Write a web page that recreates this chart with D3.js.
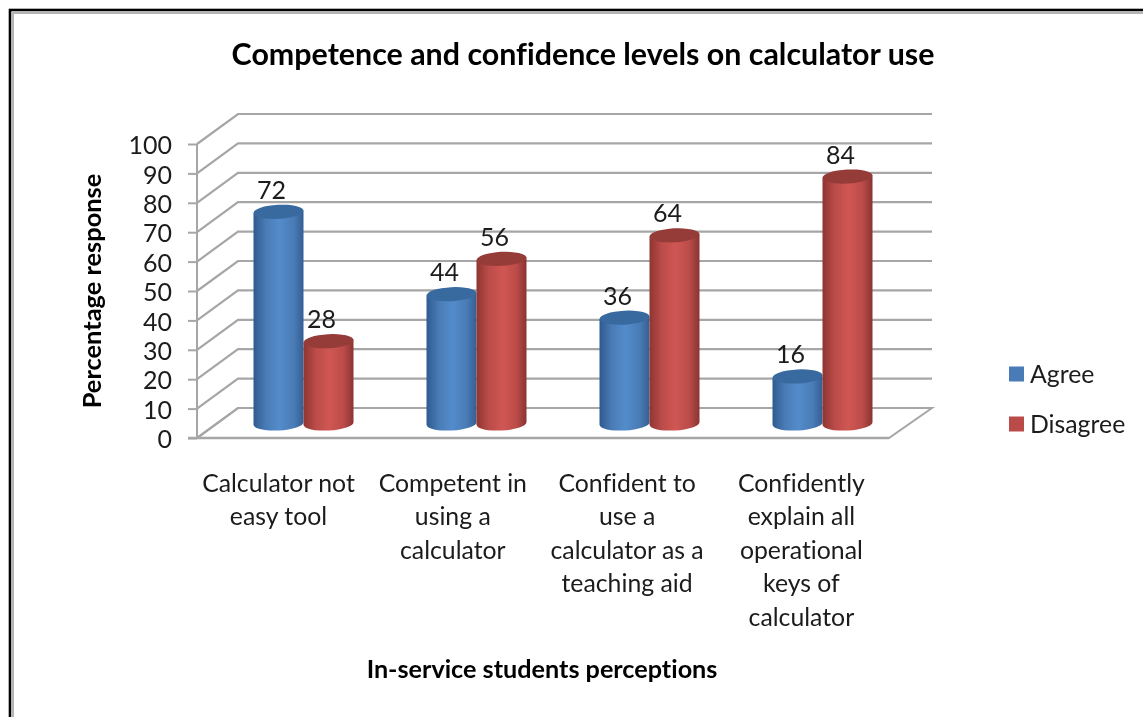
<!DOCTYPE html>
<html><head><meta charset="utf-8">
<script src="https://cdn.jsdelivr.net/npm/d3@7/dist/d3.min.js"></script>
<style>html,body{margin:0;background:#fff}svg{display:block}text{font-family:Lato,"Open Sans",sans-serif;font-variant-ligatures:none}</style>
</head><body><svg id="c" width="1143" height="717"></svg>
<script>
const chartTitle = "Competence and confidence levels on calculator use";
const xTitle = "In-service students perceptions";
const yTitle = "Percentage response";
const categories = ["Calculator not easy tool","Competent in using a calculator","Confident to use a calculator as a teaching aid","Confidently explain all operational keys of calculator"];
const categoryLines = [["Calculator not","easy tool"],["Competent in","using a","calculator"],["Confident to","use a","calculator as a","teaching aid"],["Confidently","explain all","operational","keys of","calculator"]];
const seriesNames = ["Agree","Disagree"];
const agree = [72,44,36,16];
const disagree = [28,56,64,84];
const yTicks = [0,10,20,30,40,50,60,70,80,90,100];

const root = d3.select("#c");
const defs = root.append("defs");
defs.append("filter").attr("id","soft").attr("filterUnits","userSpaceOnUse").attr("x",0).attr("y",0).attr("width",1143).attr("height",717)
  .append("feGaussianBlur").attr("stdDeviation",0.45);
const svg = root.append("g").attr("filter","url(#soft)");
const colors = {Agree:["#2f5a8e","#4a7cb6","#538ccb","#335f94","#39699f"],Disagree:["#8f3532","#bb4c49","#d05653","#8a3431","#953b39"]};
seriesNames.forEach(n=>{
  const c=colors[n];
  const g=defs.append("linearGradient").attr("id","g"+n).attr("x1",0).attr("x2",1).attr("y1",0).attr("y2",0);
  [[0,c[0]],[.25,c[1]],[.52,c[2]],[.8,c[1]],[1,c[3]]].forEach(s=>g.append("stop").attr("offset",s[0]).attr("stop-color",s[1]));
});

// frame
svg.append("rect").attr("x",0).attr("y",0).attr("width",1143).attr("height",717).attr("fill","#fff");
svg.append("rect").attr("x",13).attr("y",13).attr("width",1140).attr("height",720).attr("fill","none").attr("stroke","#b5b5b5").attr("stroke-width",2);
svg.append("rect").attr("x",10).attr("y",10).attr("width",1140).attr("height",720).attr("fill","none").attr("stroke","#000").attr("stroke-width",2.6);

const y = d3.scaleLinear().domain([0,100]).range([438,144]);
const x = d3.scaleBand().domain(categories).range([197,889]);
const dx=41, dy=-30;              // wall depth
const barDx=20.5, barDy=-14.5;    // bars sit mid-depth
const grid="#a6a6a6";

// floor + walls
svg.append("path").attr("d",`M${x.range()[0]},${y(0)}L${x.range()[0]+dx},${y(0)+dy}L932,${y(0)+dy}L${x.range()[1]},${y(0)}Z`).attr("fill","#fff").attr("stroke",grid).attr("stroke-width",2);
const gl=svg.append("g").attr("fill","none").attr("stroke",grid).attr("stroke-width",2.2);
yTicks.forEach(t=>{
  gl.append("path").attr("d",`M197,${y(t)}L${197+dx},${y(t)+dy}L932,${y(t)+dy}`);
});
// axis
const ax=svg.append("g").attr("transform","translate(197,0)").call(d3.axisLeft(y).tickValues(yTicks).tickSize(9).tickPadding(16));
ax.selectAll("path,line").attr("stroke",grid).attr("stroke-width",2);
ax.select(".domain").attr("d",`M0,${y(100)}V${y(0)}`);
ax.selectAll("text").attr("font-size",25).attr("fill","#1a1a1a").attr("dy","0.39em");
svg.append("line").attr("x1",188).attr("x2",889).attr("y1",y(0)).attr("y2",y(0)).attr("stroke",grid).attr("stroke-width",2.4);

// bars
const bw=50, ry=7;
const tilt=-3;
const bars=svg.append("g");
function cyl(g,cx,val,name){
  const top=y(val)+barDy, bot=y(0)+barDy, rx=bw/2, c=colors[name];
  const rise=rx*Math.tan(-tilt*Math.PI/180);
  g.append("path").attr("d",`M${cx-rx},${top+rise}V${bot+rise}A${rx},${ry} ${tilt} 0 0 ${cx+rx},${bot-rise}V${top-rise}Z`).attr("fill",`url(#g${name})`);
  g.append("ellipse").attr("cx",cx).attr("cy",top).attr("rx",rx).attr("ry",ry).attr("fill",c[4]).attr("transform",`rotate(${tilt} ${cx} ${top})`);
  g.append("text").attr("x",cx-7).attr("y",top-13).attr("text-anchor","middle").attr("font-size",25).attr("fill","#1a1a1a").text(val);
}
categories.forEach((cat,i)=>{
  const center=x(cat)+x.bandwidth()/2+barDx-0.5;
  const g=bars.append("g");
  cyl(g,center-bw/2,agree[i],"Agree");
  cyl(g,center+bw/2,disagree[i],"Disagree");
  const t=svg.append("text").attr("text-anchor","middle").attr("font-size",24.8).attr("fill","#1a1a1a");
  categoryLines[i].forEach((l,j)=>t.append("tspan").attr("x",x(cat)+x.bandwidth()/2-5+i*1.3).attr("y",492+j*33.4).text(l));
});

// titles
svg.append("text").attr("x",583).attr("y",64.5).attr("text-anchor","middle").attr("font-size",30.4).attr("font-weight",700).attr("fill","#000").text(chartTitle);
svg.append("text").attr("x",542).attr("y",678).attr("text-anchor","middle").attr("font-size",25.2).attr("font-weight",700).attr("fill","#000").text(xTitle);
svg.append("text").attr("transform","translate(101,291) rotate(-90)").attr("text-anchor","middle").attr("font-size",25.4).attr("font-weight",700).attr("fill","#000").text(yTitle);

// legend
seriesNames.forEach((n,i)=>{
  const ly=374+i*50;
  svg.append("rect").attr("x",1009).attr("y",ly-7.5).attr("width",15).attr("height",15).attr("fill",colors[n][1]);
  svg.append("text").attr("x",1030).attr("y",ly+9).attr("font-size",24.8).attr("fill","#1a1a1a").text(n);
});
</script></body></html>
